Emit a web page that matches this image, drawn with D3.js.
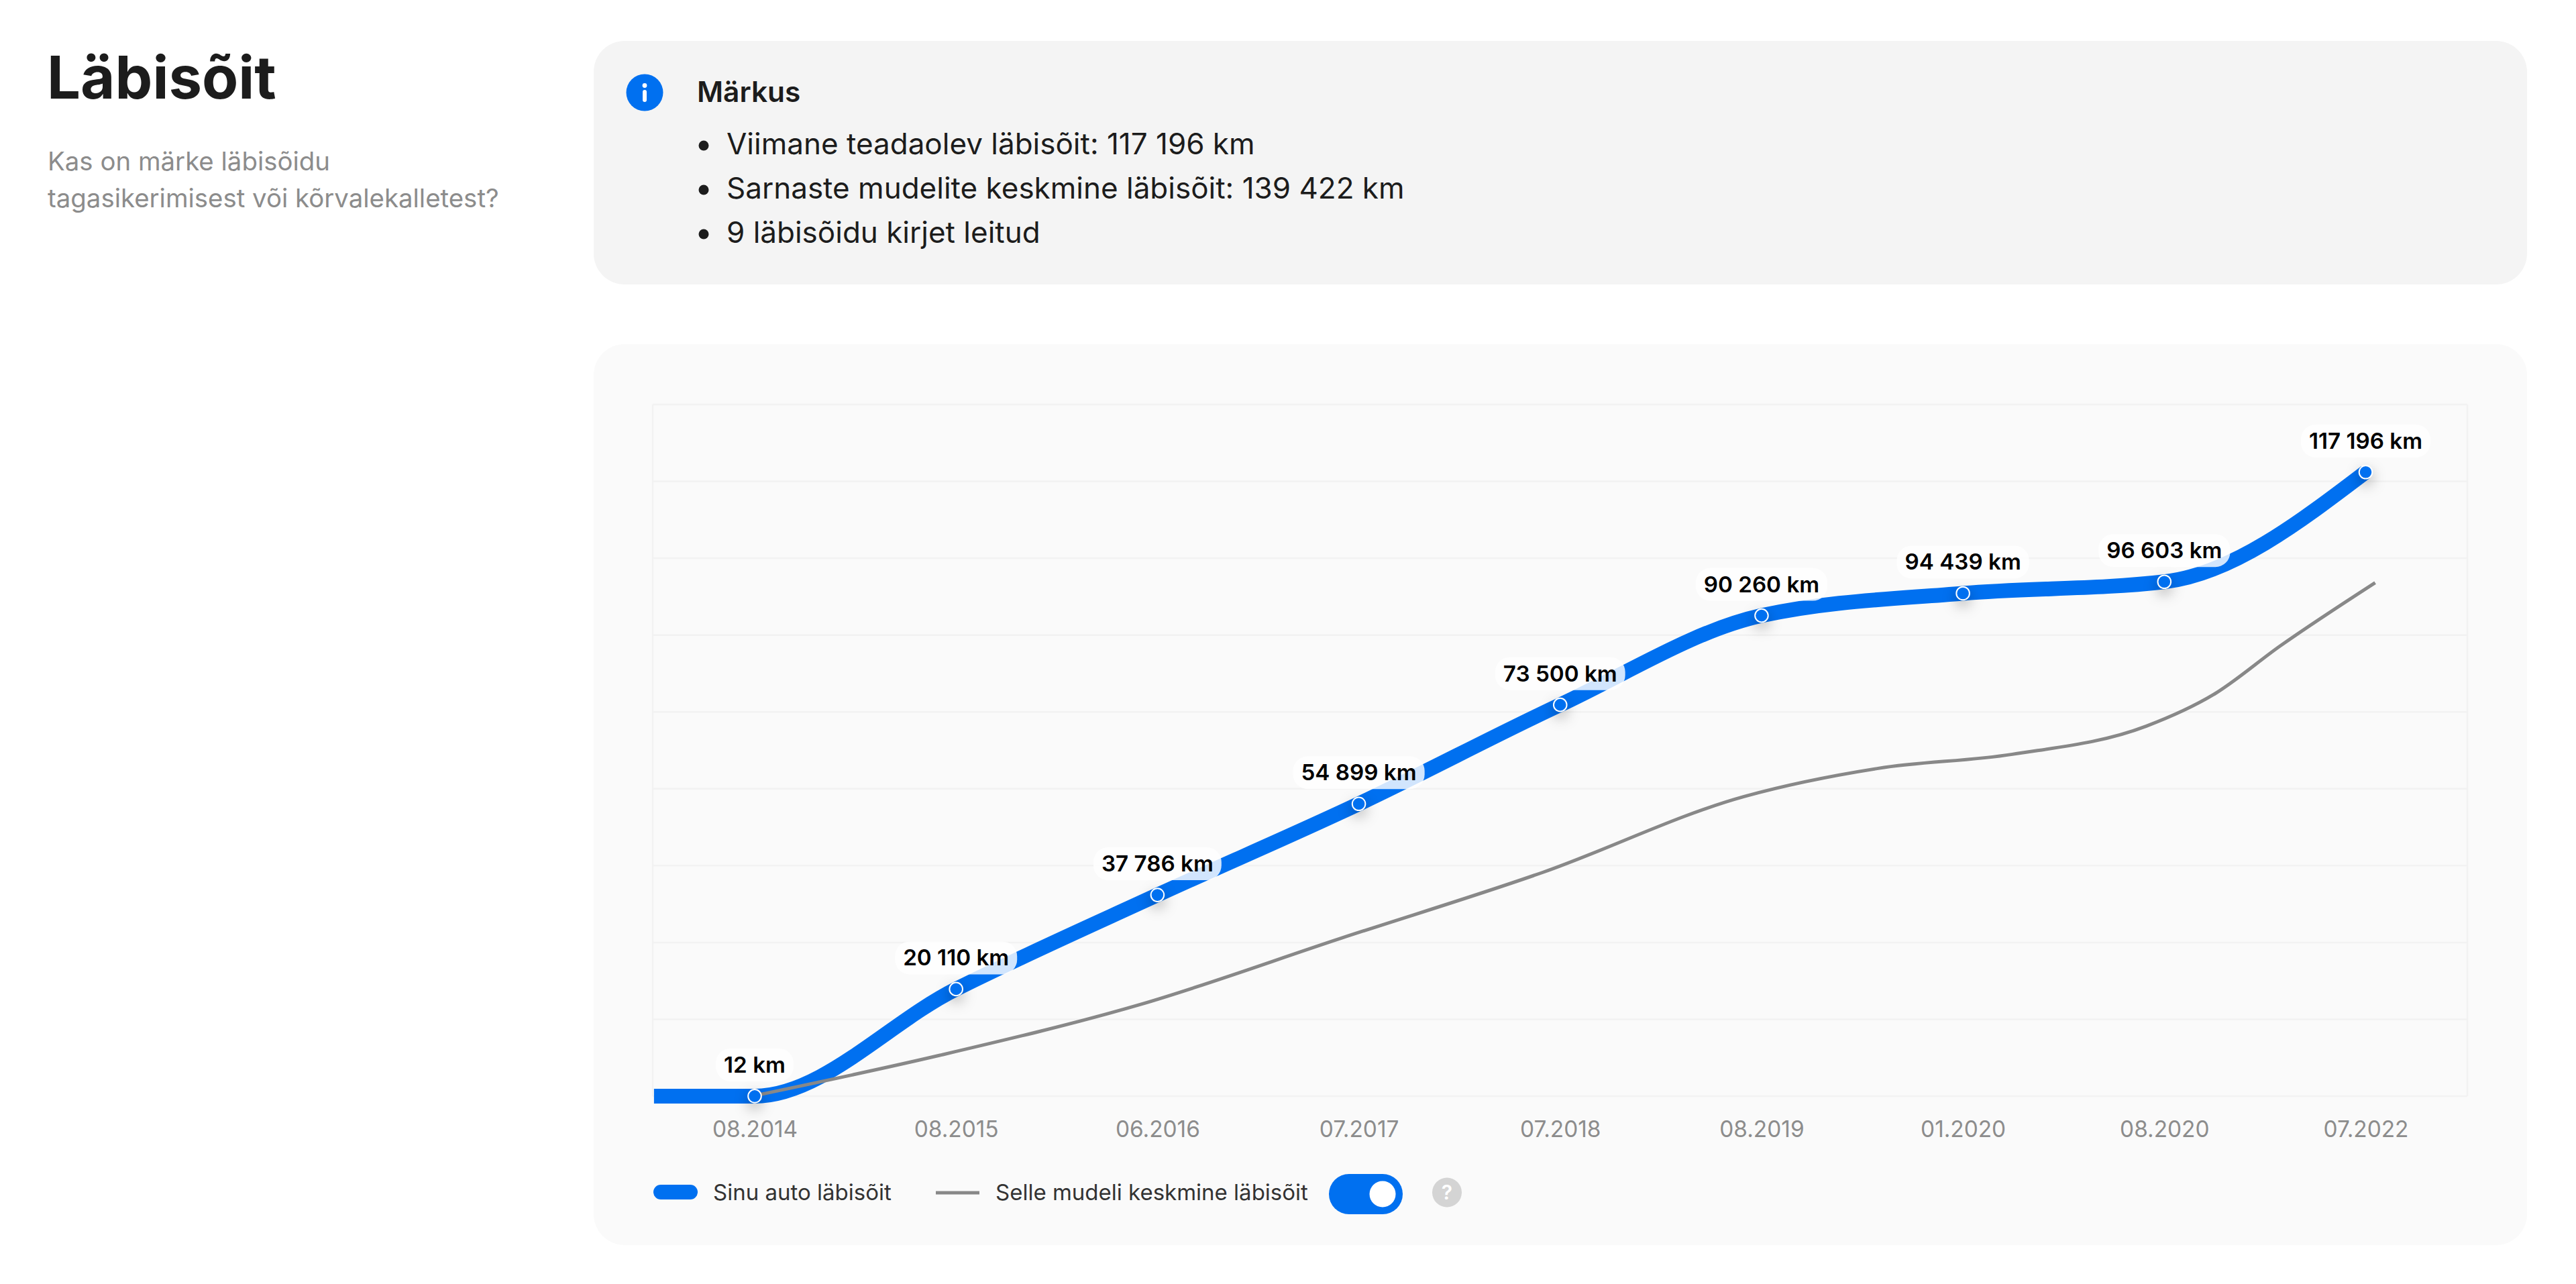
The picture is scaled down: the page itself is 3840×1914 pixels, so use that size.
<!DOCTYPE html>
<html lang="et">
<head>
<meta charset="utf-8">
<title>Läbisõit</title>
<script src="https://cdnjs.cloudflare.com/ajax/libs/d3/7.9.0/d3.min.js"></script>
<style>
html,body{margin:0;padding:0;background:#fff;}
svg{display:block;font-family:"Inter",sans-serif;}
.pt{filter:drop-shadow(0 8px 10px rgba(0,0,0,.3));}
</style>
</head>
<body>
<svg id="c" width="3840" height="1914" viewBox="0 0 3840 1914"></svg>
<script>
const categories = ["08.2014","08.2015","06.2016","07.2017","07.2018","08.2019","01.2020","08.2020","07.2022"];
const mileage = [12,20110,37786,54899,73500,90260,94439,96603,117196];
const mileageLabels = ["12 km","20 110 km","37 786 km","54 899 km","73 500 km","90 260 km","94 439 km","96 603 km","117 196 km"];
const leadInPosition = -0.5;
const avgPositions = [0,0.92,1.917,2.916,3.915,4.913,5.579,6.245,6.911,7.244,7.577,8.047];
const avgValues = [100,7680,17248,29712,42051,56277,61565,64209,69497,75414,84605,96439];
const gridValues = [0,14433,28866,43299,57732,72165,86598,101031,115464,129897];
const notes = ["Viimane teadaolev läbisõit: 117 196 km","Sarnaste mudelite keskmine läbisõit: 139 422 km","9 läbisõidu kirjet leitud"];
const legendLabels = ["Sinu auto läbisõit","Selle mudeli keskmine läbisõit"];

const BLUE="#0070f0", GREY="#888888";
const svg=d3.select("#c");

// heading
svg.append("text").attr("x",70).attr("y",147).attr("font-size",88.6).attr("font-weight",700).attr("fill","#1c1c1c").text("Läbisõit");
svg.append("text").attr("x",71).attr("y",254).attr("font-size",38.4).attr("fill","#8c8c8c").text("Kas on märke läbisõidu");
svg.append("text").attr("x",71).attr("y",309).attr("font-size",38.4).attr("fill","#8c8c8c").text("tagasikerimisest või kõrvalekalletest?");

// note card
svg.append("rect").attr("x",885).attr("y",61).attr("width",2882).attr("height",363).attr("rx",46).attr("fill","#f4f4f4");
svg.append("circle").attr("cx",961).attr("cy",138).attr("r",27.5).attr("fill",BLUE);
svg.append("circle").attr("cx",961).attr("cy",127.5).attr("r",3.4).attr("fill","#fff");
svg.append("rect").attr("x",958).attr("y",134).attr("width",6).attr("height",18).attr("rx",3).attr("fill","#fff");
svg.append("text").attr("x",1039).attr("y",152).attr("font-size",42.4).attr("font-weight",600).attr("fill","#1c1c1c").text("Märkus");
const noteRows=svg.append("g").selectAll("g").data(notes).join("g").attr("transform",(d,i)=>`translate(0,${[0,66,132][i]})`);
noteRows.append("circle").attr("cx",1049).attr("cy",217).attr("r",7.5).attr("fill","#1c1c1c");
noteRows.append("text").attr("x",1083).attr("y",229.5).attr("font-size",44).attr("fill","#1c1c1c").text(d=>d);

// chart card
svg.append("rect").attr("x",885).attr("y",513).attr("width",2882).attr("height",1343).attr("rx",46).attr("fill","#fafafa");

const xCat=d3.scalePoint().domain(categories).range([1125,3526.5]);
const xPos=d3.scaleLinear().domain([0,categories.length-1]).range([1125,3526.5]);
const y=d3.scaleLinear().domain([0,129897]).range([1634,603]);

// plot frame + grid
const grid=svg.append("g").attr("stroke","#f2f2f2").attr("stroke-width",2.5);
grid.selectAll("line").data(gridValues).join("line").attr("x1",973).attr("x2",3678).attr("y1",d=>y(d)).attr("y2",d=>y(d));
grid.append("line").attr("class","v").attr("x1",973).attr("x2",973).attr("y1",y(129897)).attr("y2",y(0));
grid.append("line").attr("class","v").attr("x1",3678).attr("x2",3678).attr("y1",y(129897)).attr("y2",y(0));

// axis
const axis=svg.append("g").attr("transform","translate(0,1665)").call(d3.axisBottom(xCat).tickSize(0).tickPadding(0));
axis.select(".domain").remove();
axis.selectAll("text").attr("font-family","Inter").attr("font-size",33.4).attr("fill","#8c8c8c").attr("dy",0).attr("y",30);

// series
const line=d3.line().x(d=>xPos(d[0])).y(d=>y(d[1])).curve(d3.curveMonotoneX);
const bluePts=[[leadInPosition,mileage[0]],...mileage.map((v,i)=>[i,v])];
svg.append("path").attr("d",line(bluePts)).attr("fill","none").attr("stroke",BLUE).attr("stroke-width",22);
svg.append("path").attr("d",line(avgPositions.map((p,i)=>[p,avgValues[i]]))).attr("fill","none").attr("stroke",GREY).attr("stroke-width",5);

// points
svg.append("g").selectAll("circle").data(mileage).join("circle").attr("class","pt")
  .attr("cx",(d,i)=>xCat(categories[i])).attr("cy",d=>y(d)).attr("r",9.8)
  .attr("fill",BLUE).attr("stroke","#fff").attr("stroke-width",2);

// value labels
const lab=svg.append("g").selectAll("g").data(mileage).join("g")
  .attr("transform",(d,i)=>`translate(${xCat(categories[i])},${y(d)})`);
const labText=lab.append("text").attr("text-anchor","middle").attr("y",-35).attr("font-size",33.2).attr("font-weight",600).attr("fill","#000").text((d,i)=>mileageLabels[i]);
labText.each(function(){
  const w=this.getComputedTextLength();
  d3.select(this.parentNode).insert("rect","text").attr("x",-w/2-12).attr("y",-71).attr("width",w+24).attr("height",49).attr("rx",22).attr("fill","#fff").attr("fill-opacity",.82);
});

// legend
svg.append("rect").attr("x",974).attr("y",1766).attr("width",66).attr("height",22).attr("rx",11).attr("fill",BLUE);
svg.append("text").attr("x",1063).attr("y",1789).attr("font-size",33).attr("fill","#333").text(legendLabels[0]);
svg.append("line").attr("x1",1395).attr("x2",1460).attr("y1",1778).attr("y2",1778).attr("stroke",GREY).attr("stroke-width",5);
svg.append("text").attr("x",1484).attr("y",1789).attr("font-size",33).attr("fill","#333").text(legendLabels[1]);

// toggle + help
svg.append("rect").attr("x",1981).attr("y",1750).attr("width",110).attr("height",60).attr("rx",30).attr("fill",BLUE);
svg.append("circle").attr("cx",2061).attr("cy",1780).attr("r",19.5).attr("fill","#fff");
svg.append("circle").attr("cx",2157).attr("cy",1777.5).attr("r",22).attr("fill","#d4d4d4");
svg.append("text").attr("x",2157).attr("y",1788).attr("text-anchor","middle").attr("font-size",30).attr("font-weight",600).attr("fill","#fff").text("?");
</script>
</body>
</html>
